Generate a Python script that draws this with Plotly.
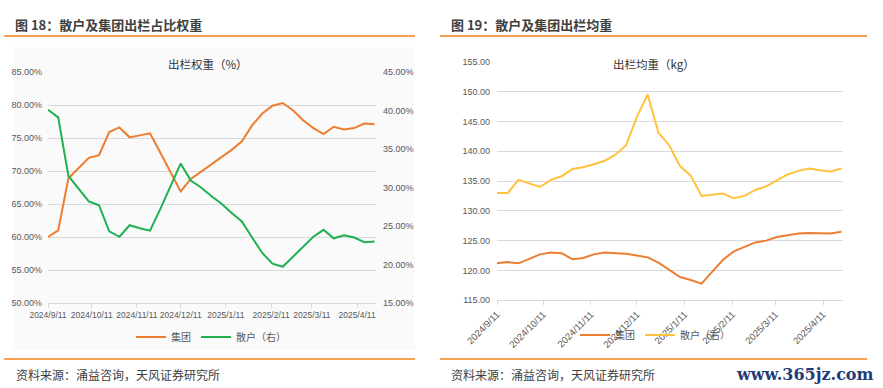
import plotly.graph_objects as go

# ---------------- data ----------------
dates = ["2024-09-11", "2024-09-18", "2024-09-25", "2024-10-02", "2024-10-09", "2024-10-16",
         "2024-10-23", "2024-10-30", "2024-11-06", "2024-11-13", "2024-11-20", "2024-11-27",
         "2024-12-04", "2024-12-11", "2024-12-18", "2024-12-25", "2025-01-01", "2025-01-08",
         "2025-01-15", "2025-01-22", "2025-01-29", "2025-02-05", "2025-02-12", "2025-02-19",
         "2025-02-26", "2025-03-05", "2025-03-12", "2025-03-19", "2025-03-26", "2025-04-02",
         "2025-04-09", "2025-04-16", "2025-04-23"]

# Fig 18: share of slaughter (%)
group_share = [60.0, 61.0, 68.9, 70.4, 72.0, 72.4, 75.9, 76.6, 75.1, 75.4,
               75.7, 72.8, 69.9, 66.9, 68.8, 69.9, 71.0, 72.0, 73.2, 74.5,
               76.9, 78.7, 79.9, 80.3, 79.2, 77.7, 76.5, 75.6, 76.7, 76.3,
               76.5, 77.2, 77.1]
retail_share = [40.1, 39.1, 31.5, 29.9, 28.2, 27.7, 24.3, 23.6, 25.1, 24.7,
                24.4, 27.2, 30.1, 33.1, 30.9, 30.0, 28.9, 27.9, 26.7, 25.6,
                23.5, 21.5, 20.1, 19.7, 21.0, 22.3, 23.6, 24.5, 23.4, 23.8,
                23.5, 22.9, 23.0]

# Fig 19: average slaughter weight (kg)
group_weight = [121.2, 121.4, 121.2, 122.0, 122.7, 123.0, 122.9, 121.9, 122.1, 122.7,
                123.0, 122.9, 122.8, 122.5, 122.2, 121.3, 120.1, 118.9, 118.4, 117.8,
                119.8, 121.8, 123.2, 124.0, 124.7, 125.0, 125.6, 125.9, 126.2, 126.3,
                126.3, 126.2, 126.5]
retail_weight = [133.0, 133.0, 135.2, 134.6, 134.0, 135.2, 135.8, 137.0, 137.3, 137.8,
                 138.4, 139.4, 141.0, 145.8, 149.5, 143.1, 141.0, 137.5, 135.9, 132.5,
                 132.7, 132.9, 132.1, 132.5, 133.5, 134.1, 135.1, 136.1, 136.7, 137.1,
                 136.8, 136.6, 137.1]

tick_dates = ["2024-09-11", "2024-10-11", "2024-11-11", "2024-12-11",
              "2025-01-11", "2025-02-11", "2025-03-11", "2025-04-11"]
tick_labels = ["2024/9/11", "2024/10/11", "2024/11/11", "2024/12/11",
               "2025/1/11", "2025/2/11", "2025/3/11", "2025/4/11"]

# ---------------- layout helpers ----------------
W, H = 883, 388


def px(x):
    return x / W


def py(y):
    return 1 - y / H


SANS = "Liberation Sans, Arial"
TICK1X = dict(size=8.5, color="#595959", family=SANS)
TICK1Y = dict(size=9, color="#595959", family=SANS)
TICK2 = dict(size=9, color="#595959", family=SANS)
TICK2X = dict(size=9.5, color="#595959", family=SANS)
GRID = "#d9d9d9"
ORANGE = "#ED7D31"
GREEN = "#1FB14F"
YELLOW = "#FFC23D"
RULE = "#F5821F"

fig = go.Figure()
fig.add_trace(go.Scatter(x=dates, y=group_share, name="集团", mode="lines",
                         line=dict(color=ORANGE, width=2), xaxis="x", yaxis="y", legend="legend"))
fig.add_trace(go.Scatter(x=dates, y=retail_share, name="散户（右）", mode="lines",
                         line=dict(color=GREEN, width=2), xaxis="x", yaxis="y3", legend="legend"))
fig.add_trace(go.Scatter(x=dates, y=group_weight, name="集团", mode="lines",
                         line=dict(color=ORANGE, width=2), xaxis="x2", yaxis="y2", legend="legend2"))
fig.add_trace(go.Scatter(x=dates, y=retail_weight, name="散户（右）", mode="lines",
                         line=dict(color=YELLOW, width=2), xaxis="x2", yaxis="y2", legend="legend2"))

xcommon = dict(type="date", range=["2024-09-11", "2025-04-24"], tickvals=tick_dates,
               ticktext=tick_labels, showgrid=False, showline=True, linecolor=GRID,
               ticks="outside", ticklen=4, tickcolor=GRID, zeroline=False, automargin=False)

fig.update_layout(
    width=W, height=H, margin=dict(l=0, r=0, t=0, b=0, autoexpand=False),
    paper_bgcolor="white", plot_bgcolor="rgba(0,0,0,0)",
    font=dict(family="Liberation Sans, Arial, Noto Sans CJK SC", color="#404040"),
    xaxis=dict(xcommon, domain=[px(48), px(376)], anchor="y", tickangle=0, tickfont=TICK1X),
    yaxis=dict(domain=[py(303), py(72)], range=[50, 85], dtick=5, tickformat=".2f",
               ticksuffix="%", gridcolor=GRID, zeroline=False, tickfont=TICK1Y, anchor="x",
               automargin=False, ticklabelstandoff=5),
    yaxis3=dict(overlaying="y", side="right", range=[15, 45], dtick=5, tickformat=".2f",
                ticksuffix="%", showgrid=False, zeroline=False, tickfont=TICK1Y,
                anchor="free", position=px(376), automargin=False, ticklabelstandoff=6),
    xaxis2=dict(xcommon, domain=[px(497), px(843)], anchor="y2", tickangle=-45, tickfont=TICK2X),
    yaxis2=dict(domain=[py(300.3), py(61.7)], range=[115, 155], dtick=5, tickformat=".2f",
                gridcolor=GRID, zeroline=False, tickfont=TICK2, anchor="x2", automargin=False,
                ticklabelstandoff=6),
    legend=dict(orientation="h", x=px(211), xanchor="center", y=py(337), yanchor="middle",
                font=dict(size=10, color="#595959"), itemwidth=30, bgcolor="rgba(0,0,0,0)"),
    legend2=dict(orientation="h", x=px(655), xanchor="center", y=py(335), yanchor="middle",
                 font=dict(size=10, color="#595959"), itemwidth=30, bgcolor="rgba(0,0,0,0)"),
)

shapes = [
    dict(type="rect", xref="paper", yref="paper", x0=px(13), x1=px(415), y0=py(350), y1=py(47),
         fillcolor="#fafafa", line=dict(width=0), layer="below"),
    dict(type="line", xref="paper", yref="paper", x0=px(4), x1=px(415), y0=py(36), y1=py(36),
         line=dict(color=RULE, width=1.5)),
    dict(type="line", xref="paper", yref="paper", x0=px(440), x1=px(867), y0=py(36), y1=py(36),
         line=dict(color=RULE, width=1.5)),
    dict(type="line", xref="paper", yref="paper", x0=px(4), x1=px(415), y0=py(359), y1=py(359),
         line=dict(color=RULE, width=1.5)),
    dict(type="line", xref="paper", yref="paper", x0=px(440), x1=px(867), y0=py(359), y1=py(359),
         line=dict(color=RULE, width=1.5)),
]
fig.update_layout(shapes=shapes)


def ann(text, x, y, size, color="#404040", bold=False, xanchor="left", family=None):
    f = dict(size=size, color=color)
    if family:
        f["family"] = family
    return dict(text=("<b>%s</b>" % text) if bold else text, x=px(x), y=py(y), xref="paper",
                yref="paper", xanchor=xanchor, yanchor="middle", showarrow=False, font=f)


annotations = [
    ann("图 18：散户及集团出栏占比权重", 13, 24, 13, bold=True, family="Noto Sans CJK SC"),
    ann("图 19：散户及集团出栏均重", 449, 24, 13, bold=True, family="Noto Sans CJK SC"),
    ann("出栏权重（%）", 208, 64, 11.5, color="#333333", xanchor="center", family="Noto Sans CJK SC"),
    ann("出栏均重（kg）", 654, 64, 11.5, color="#333333", xanchor="center", family="Noto Sans CJK SC"),
    ann("资料来源：涌益咨询，天风证券研究所", 14, 374, 12, family="Noto Sans CJK SC"),
    ann("资料来源：涌益咨询，天风证券研究所", 449, 374, 12, family="Noto Sans CJK SC"),
    ann("www.365jz.com", 876, 374, 16, color="#1d3c78", bold=True, xanchor="right",
        family="DejaVu Serif"),
]
fig.update_layout(annotations=annotations)

fig.write_html("out.html", config={"displayModeBar": False},
               post_script="document.body.style.margin='0';")
